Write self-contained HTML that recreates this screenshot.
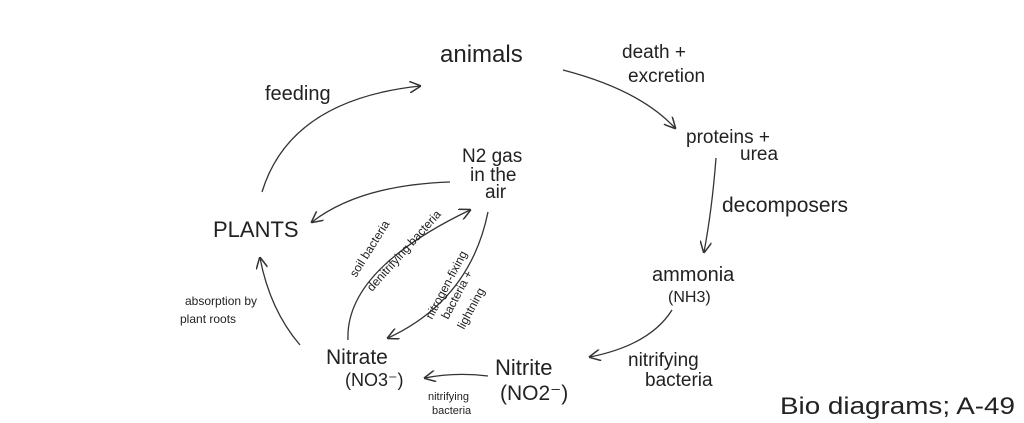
<!DOCTYPE html>
<html><head><meta charset="utf-8"><style>
html,body{margin:0;padding:0;background:#fff;}
svg{display:block;}
text{font-family:"Liberation Sans",sans-serif;fill:#222;}
.c{fill:none;stroke:#333;stroke-width:1.3;}
</style></head><body>
<svg width="1024" height="423" viewBox="0 0 1024 423">
<defs><marker id="ah" viewBox="0 0 10 10" refX="9" refY="5" markerWidth="9" markerHeight="9" orient="auto"><path d="M0,0 L10,5 L0,10" fill="none" stroke="#333" stroke-width="1.3"/></marker></defs>
<rect width="1024" height="423" fill="#fff"/>
<text x="440" y="62" font-size="24">animals</text>
<text x="622" y="58" font-size="19">death +</text>
<text x="628" y="82" font-size="19">excretion</text>
<path class="c" d="M563,70 Q640,90 675,128" marker-end="url(#ah)"/>
<text x="686" y="143" font-size="19">proteins +</text>
<text x="740" y="160" font-size="19">urea</text>
<path class="c" d="M716,158 Q712,210 704,252" marker-end="url(#ah)"/>
<text x="722" y="212" font-size="21">decomposers</text>
<text x="652" y="281" font-size="20">ammonia</text>
<text x="668" y="302" font-size="16">(NH3)</text>
<path class="c" d="M672,310 Q650,345 590,357" marker-end="url(#ah)"/>
<text x="628" y="366" font-size="19">nitrifying</text>
<text x="645" y="386" font-size="19">bacteria</text>
<text x="495" y="375" font-size="22">Nitrite</text>
<text x="500" y="400" font-size="21">(NO2⁻)</text>
<path class="c" d="M488,376 Q455,372 425,378" marker-end="url(#ah)"/>
<text x="428" y="400" font-size="11">nitrifying</text>
<text x="432" y="414" font-size="11">bacteria</text>
<text x="326" y="364" font-size="21">Nitrate</text>
<text x="345" y="386" font-size="18">(NO3⁻)</text>
<path class="c" d="M300,345 Q270,310 260,258" marker-end="url(#ah)"/>
<text x="185" y="305" font-size="12">absorption by</text>
<text x="180" y="323" font-size="12">plant roots</text>
<text x="213" y="237" font-size="22">PLANTS</text>
<path class="c" d="M262,192 Q290,100 420,86" marker-end="url(#ah)"/>
<text x="265" y="100" font-size="20">feeding</text>
<text x="462" y="162" font-size="19">N2 gas</text>
<text x="470" y="181" font-size="19">in the</text>
<text x="485" y="198" font-size="19">air</text>
<path class="c" d="M450,182 Q360,185 312,222" marker-end="url(#ah)"/>
<path class="c" d="M348,340 Q345,270 470,210" marker-end="url(#ah)"/>
<path class="c" d="M488,212 Q470,300 388,338" marker-end="url(#ah)"/>
<text transform="translate(356,278) rotate(-58)" font-size="12">soil bacteria</text>
<text transform="translate(372,292) rotate(-48)" font-size="12">denitrifying bacteria</text>
<text transform="translate(432,320) rotate(-62)" font-size="12">nitrogen-fixing</text>
<text transform="translate(448,320) rotate(-62)" font-size="12">bacteria +</text>
<text transform="translate(464,330) rotate(-62)" font-size="12">lightning</text>
<text x="780" y="414" font-size="24" textLength="235" lengthAdjust="spacingAndGlyphs">Bio diagrams; A-49</text>
</svg>
</body></html>
